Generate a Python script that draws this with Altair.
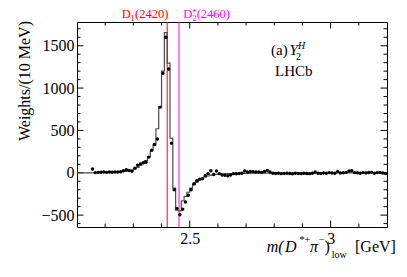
import altair as alt
import pandas as pd
import numpy as np

# ---------------- data ----------------
# weighted data points, 10 MeV bins, first bin centre 2.155 GeV
first_centre = 2.155
bin_width = 0.01
points = [45, 2, 5, 6, 8, 5, 8, 6, 10, 8,
          12, 25, 35, 28, 18, 55, 88, 105, 118, 125,
          185, 265, 335, 400, 775, 1175, 1600, 1225, 350, -200,
          -420, -495, -430, -345, -265, -200, -130, -95, -75, -70,
          -35, -10, 25, -20, 20, -10, -25, -30, -35, -25,
          -10, -12, -8, -5, 22, 8, 15, 12, 8, 10,
          5, 15, 28, 10, -5, -8, -5, -10, -8, -5,
          -8, -12, -6, -8, -10, -6, -8, -10, -5, 8,
          -5, -8, -3, -6, 2, -2, -5, 15, -2, 0,
          5, 22, 25, 2, 0, -5, 2, -2, 3, 5,
          -5, 2, 4, -3, -8]

# model histogram, bins starting at 2.10 GeV
model_start = 2.10
model = [0, 0, 0, 0, 0,
         0, 2, 3, 4, 5, 6, 7, 8, 10, 12,
         14, 17, 20, 25, 32, 45, 65, 90, 115, 145,
         190, 260, 330, 520, 780, 1200, 1655, 1295, 410, -180,
         -440, -450, -330, -280, -230, -180, -140, -110, -85, -65,
         -50, -38, -28, -22, -18, -15, -14, -12, -11, -10,
         -9, -8, -8, -7, -6, -6, -5, -5, -5, -5,
         -5, -5, -5, -5, -5, -5, -5, -4, -4, -4,
         -4, -4, -4, -3, -3, -3, -3, -3, -3, -2,
         -2, -2, -2, -2, -2, -2, -1, -1, -1, -1,
         -1, -1, -1, -1, 0, 0, 0, 0, 0, 0]

lines_mass = [2.420, 2.462]
lines_color = ["#ff0000", "#ff00ff"]

x_major = [2.5, 3.0]
x_minor = [2.2, 2.3, 2.4, 2.6, 2.7, 2.8, 2.9, 3.1]
y_major = [-500, 0, 500, 1000, 1500]
y_minor = [-600, -400, -300, -200, -100, 100, 200, 300, 400, 600, 700, 800, 900,
           1100, 1200, 1300, 1400, 1600, 1700]

X_DOMAIN = [2.1, 3.2]
Y_DOMAIN = [-640, 1780]
W, H = 310, 205
FONT = "Liberation Serif"

# ---------------- tables ----------------
pts = pd.DataFrame({
    "m": first_centre + bin_width * np.arange(len(points)),
    "w": points,
})
edges = model_start + bin_width * np.arange(len(model) + 1)
mod = pd.DataFrame({"m": edges, "w": model + [model[-1]]})

xs = alt.Scale(domain=X_DOMAIN, nice=False, zero=False)
ys = alt.Scale(domain=Y_DOMAIN, nice=False, zero=False)

hist = alt.Chart(mod).mark_line(interpolate="step-after", color="#4a4a4a",
                                strokeWidth=1.2).encode(
    x=alt.X("m:Q", scale=xs,
            axis=alt.Axis(values=x_major, format="~g", title=None, ticks=False,
                          domain=False, grid=False, labelFont=FONT,
                          labelFontSize=16, labelColor="black", labelPadding=3)),
    y=alt.Y("w:Q", scale=ys,
            axis=alt.Axis(values=y_major, format="d", title=None, ticks=False,
                          domain=False, grid=False, labelFont=FONT,
                          labelFontSize=16, labelColor="black", labelPadding=3)),
)

dots = alt.Chart(pts).mark_circle(color="black", size=12, opacity=1).encode(
    x=alt.X("m:Q", scale=xs), y=alt.Y("w:Q", scale=ys))

vlines = alt.Chart(pd.DataFrame({"m": lines_mass, "c": lines_color})).mark_rule(
    strokeWidth=1).encode(
    x=alt.X("m:Q", scale=xs),
    color=alt.Color("c:N", scale=None),
)

# tick marks (inside, on all four sides)
def xticks(vals, ln):
    d = pd.DataFrame({"m": vals})
    b = alt.Chart(d).mark_rule(color="black", strokeWidth=1).encode(
        x=alt.X("m:Q", scale=xs), y=alt.value(H), y2=alt.value(H - ln))
    t = alt.Chart(d).mark_rule(color="black", strokeWidth=1).encode(
        x=alt.X("m:Q", scale=xs), y=alt.value(0), y2=alt.value(ln))
    return [b, t]

def yticks(vals, ln):
    d = pd.DataFrame({"w": vals})
    l = alt.Chart(d).mark_rule(color="black", strokeWidth=1).encode(
        y=alt.Y("w:Q", scale=ys), x=alt.value(0), x2=alt.value(ln))
    r = alt.Chart(d).mark_rule(color="black", strokeWidth=1).encode(
        y=alt.Y("w:Q", scale=ys), x=alt.value(W), x2=alt.value(W - ln))
    return [l, r]

ticks = xticks(x_major, 6.5) + xticks(x_minor, 3.5) + yticks(y_major, 6.5) + yticks(y_minor, 3.5)

one = pd.DataFrame({"a": [0]})

def txt(s, x, y, size=16, color="black", style="normal", align="left",
        baseline="alphabetic", angle=0):
    return alt.Chart(one).mark_text(
        text=s, font=FONT, fontSize=size, color=color, fontStyle=style,
        align=align, baseline=baseline, angle=angle).encode(
        x=alt.value(x), y=alt.value(y))

texts = [
    # y title
    txt("Weights/(10 MeV)", -44, -1, size=16, align="right", baseline="bottom", angle=270),
    # x title
    txt("m(", 189.7, 229.7, style="italic"),
    txt("D", 208, 229.7, style="italic"),
    txt("*+", 222.5, 221, size=10),
    txt("π", 233, 229.7, style="italic"),
    txt("−", 242, 221, size=10),
    txt(")", 247.5, 229.7),
    txt("low", 254.7, 236, size=10),
    txt("[GeV]", 278, 229.7),
    # line labels
    txt("D", 44.7, -4, size=12.5, color="#ff0000"),
    txt("1", 53.3, -1, size=9, color="#ff0000"),
    txt("(2420)", 58, -4, size=12.5, color="#ff0000"),
    txt("D", 106.3, -4, size=12.5, color="#ff00ff"),
    txt("2", 115.2, -1, size=9, color="#ff00ff"),
    txt("*", 115.2, -7, size=9, color="#ff00ff"),
    txt("(2460)", 119.7, -4, size=12.5, color="#ff00ff"),
    # legend text
    txt("(a)", 194, 33, size=15),
    txt("Y", 212.5, 33, size=15, style="italic"),
    txt("2", 219, 38, size=10),
    txt("H", 221, 27, size=10, style="italic"),
    txt("LHCb", 198, 54, size=15),
]

chart = alt.layer(*ticks, vlines, hist, dots, *texts).properties(
    width=W, height=H,
    autosize=alt.AutoSizeParams(type="none"),
    padding={"left": 69, "top": 14, "right": 12, "bottom": 42},
).configure(background="white").configure_view(stroke="black", strokeWidth=1)

chart.save("out.html", embed_options={"renderer": "svg", "actions": False})
